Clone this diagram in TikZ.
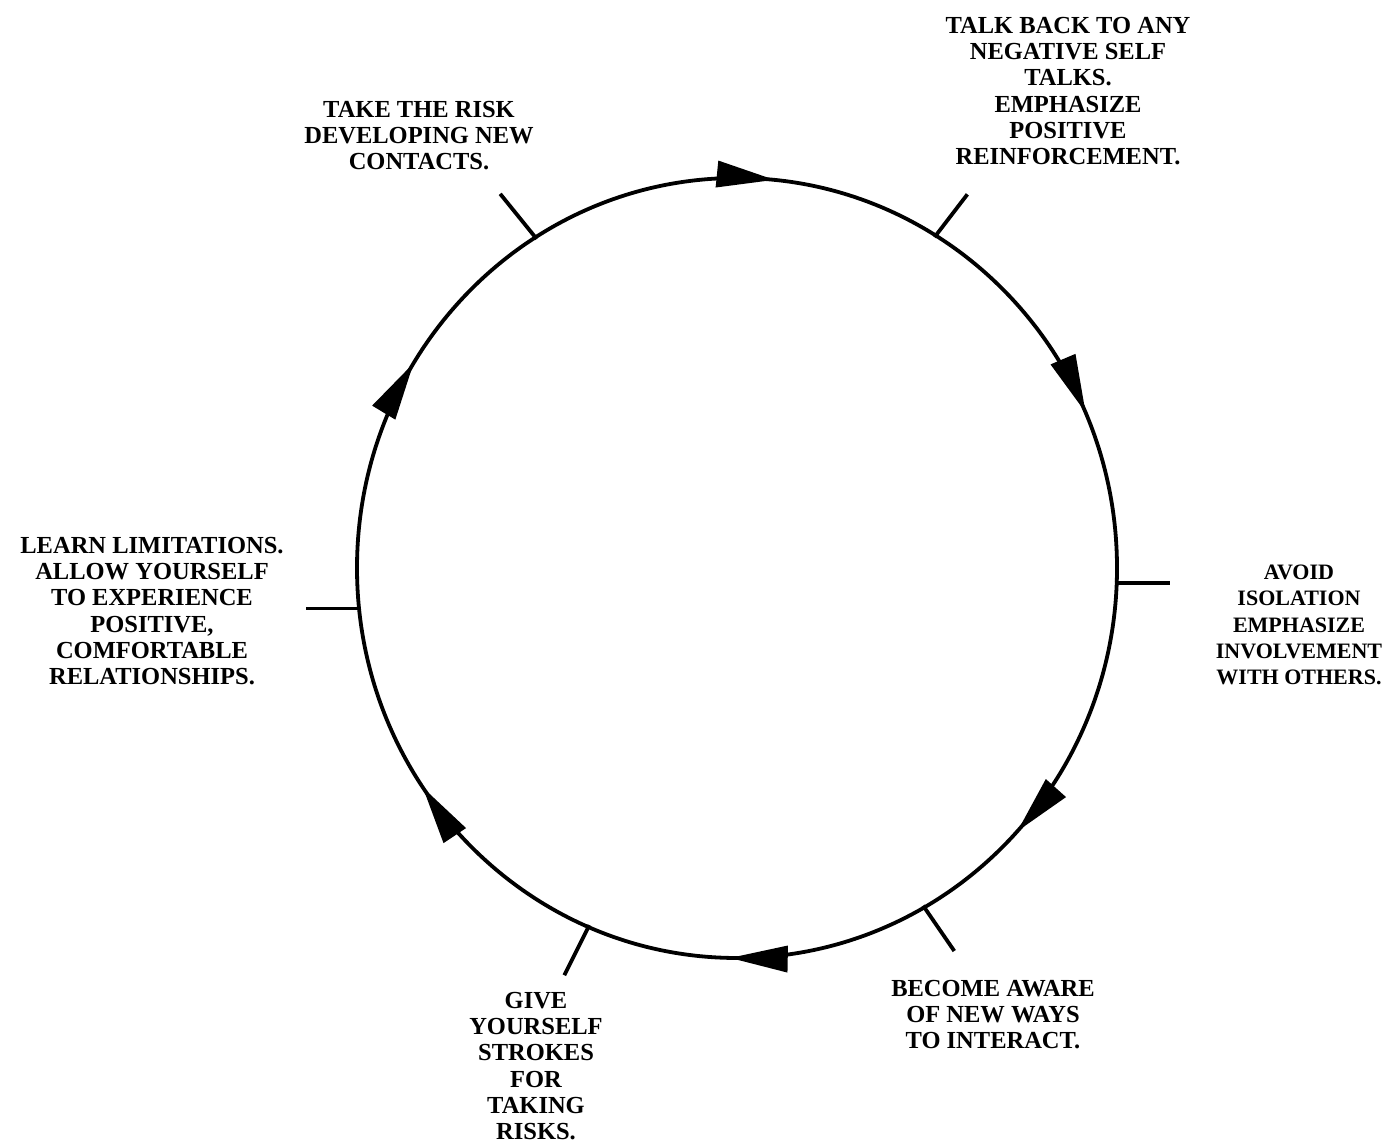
\documentclass[tikz,border=0pt]{standalone}
\usepackage{fontspec}
\setmainfont{Liberation Serif}
\usetikzlibrary{arrows.meta,decorations.markings,calc}
\tikzset{
  loopline/.style={line width=3.8pt},
  tickline/.style={line width=3.8pt},
  stagetext/.style={font=\bfseries\fontsize{24.5}{26.2}\selectfont, align=center, inner sep=0pt, anchor=north},
  headtip/.tip={Triangle[length=58pt,width=26pt]}
}
\begin{document}
\begin{tikzpicture}[x=1pt,y=1pt]
\useasboundingbox (0,0) rectangle (1386,1140);
\coordinate (c) at (737,572);
% the loop, run clockwise from the top
\draw[loopline, decoration={markings,
    mark=at position 0.0156 with {\arrow{headtip}},
    mark=at position 0.184 with {\arrow{headtip}},
    mark=at position 0.369 with {\arrow{headtip}},
    mark=at position 0.503 with {\arrow{headtip}},
    mark=at position 0.654 with {\arrow{headtip}},
    mark=at position 0.839 with {\arrow{headtip}}},
  postaction={decorate}]
  (737,962) arc[start angle=90, end angle=-270, x radius=380, y radius=390];
% ticks
\foreach \a/\d/\l/\n in {122/129/58/risk, 58.5/52.5/54/talk, -2.2/0/55/avoid,
    -60.5/-55.5/55/aware, -113/-116.5/56/strokes, 186/180/55/learn} {
  \coordinate (\n-in) at ($(c)+(\a:378 and 388)$);
  \coordinate (\n-out) at ($(\n-in)+(\d:\l)$);
  \draw[tickline] (\n-in) -- (\n-out);
}
\node[stagetext] (risk) at (419,1039) {TAKE THE RISK\\DEVELOPING NEW\\CONTACTS.};
\node[stagetext] (talk) at (1068,1123) {TALK BACK TO ANY\\NEGATIVE SELF\\TALKS.\\EMPHASIZE\\POSITIVE\\REINFORCEMENT.};
\node[stagetext, font=\bfseries\fontsize{22}{26.2}\selectfont] (avoid) at (1299,575) {AVOID\\ISOLATION\\EMPHASIZE\\INVOLVEMENT\\WITH OTHERS.};
\node[stagetext] (aware) at (993,160) {BECOME AWARE\\OF NEW WAYS\\TO INTERACT.};
\node[stagetext] (strokes) at (536,148) {GIVE\\YOURSELF\\STROKES\\FOR\\TAKING\\RISKS.};
\node[stagetext] (learn) at (152,603) {LEARN LIMITATIONS.\\ALLOW YOURSELF\\TO EXPERIENCE\\POSITIVE,\\COMFORTABLE\\RELATIONSHIPS.};
\end{tikzpicture}
\end{document}
